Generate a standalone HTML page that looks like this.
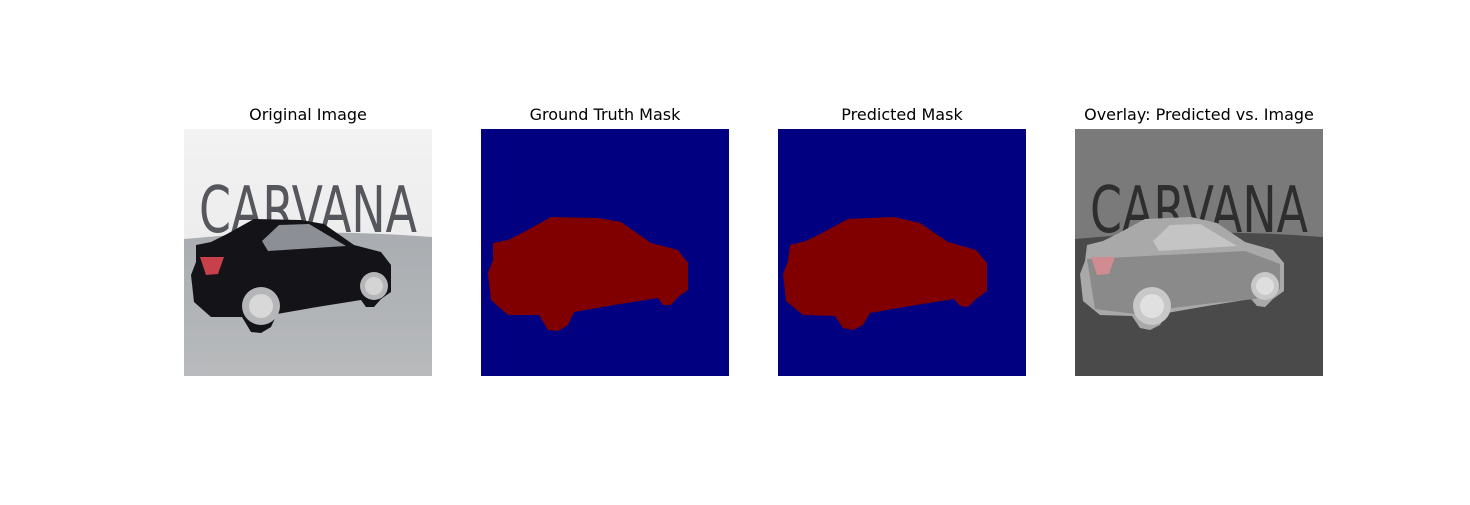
<!DOCTYPE html>
<html><head><meta charset="utf-8"><style>
html,body{margin:0;padding:0;background:#fff;}
svg text{font-family:"DejaVu Sans","Liberation Sans",sans-serif;}
</style></head><body>
<svg width="1470" height="500" viewBox="0 0 1470 500" xmlns="http://www.w3.org/2000/svg">
<defs>
<path id="sil" d="M12,114 L27,111 L43,103 L70,88 L117,89 L140,93 L170,114 L197,121 L207,134 L207,161 L197,168 L190,176 L182,176 L177,169 L133,176 L93,183 L87,196 L77,202 L67,201 L58,186 L27,186 L10,171 L7,144 L12,131 Z"/>
<path id="sil2" d="M12,116 L28,112 L44,104 L70,90 L116,88 L142,94 L170,113 L198,121 L209,134 L209,162 L198,170 L190,178 L182,177 L176,170 L132,177 L92,184 L85,196 L75,201 L65,199 L57,187 L25,186 L8,172 L5,145 L10,132 Z"/>
<linearGradient id="wall" x1="0" y1="0" x2="0" y2="1"><stop offset="0" stop-color="#f2f2f2"/><stop offset="1" stop-color="#e6e6e6"/></linearGradient>
<linearGradient id="floor" x1="0" y1="0" x2="0" y2="1"><stop offset="0" stop-color="#a9adb1"/><stop offset="1" stop-color="#b8babc"/></linearGradient>
</defs>

<!-- Panel 1: original -->
<g>
<text x="308" y="120" font-size="16" text-anchor="middle">Original Image</text>
<svg x="184" y="129" width="248" height="247" viewBox="0 0 248 247">
<rect width="248" height="247" fill="url(#wall)"/>
<path d="M0,110 Q124,98 248,108 L248,247 L0,247 Z" fill="url(#floor)"/>
<text x="124" y="103" font-size="64" text-anchor="middle" fill="#55575c" font-family="Liberation Sans" textLength="218" lengthAdjust="spacingAndGlyphs">CARVANA</text>
<use href="#sil" fill="#141418" transform="translate(0,2)"/>
<path d="M78,112 L95,96 L125,95 L162,117 L84,122 Z" fill="#8c9096"/>
<path d="M16,128 L40,128 L34,145 L22,146 Z" fill="#c8404a"/>
<circle cx="77" cy="177" r="19" fill="#b4b6b8"/><circle cx="77" cy="177" r="12" fill="#d8d8d8"/>
<circle cx="190" cy="157" r="14" fill="#b4b6b8"/><circle cx="190" cy="157" r="9" fill="#d4d4d4"/>
</svg>
</g>

<!-- Panel 2: ground truth -->
<g>
<text x="605" y="120" font-size="16" text-anchor="middle">Ground Truth Mask</text>
<svg x="481" y="129" width="248" height="247" viewBox="0 0 248 247">
<rect width="248" height="247" fill="#000080"/>
<use href="#sil" fill="#800000"/>
</svg>
</g>

<!-- Panel 3: predicted -->
<g>
<text x="902" y="120" font-size="16" text-anchor="middle">Predicted Mask</text>
<svg x="778" y="129" width="248" height="247" viewBox="0 0 248 247">
<rect width="248" height="247" fill="#000080"/>
<use href="#sil2" fill="#800000"/>
</svg>
</g>

<!-- Panel 4: overlay -->
<g>
<text x="1199" y="120" font-size="16" text-anchor="middle">Overlay: Predicted vs. Image</text>
<svg x="1075" y="129" width="248" height="247" viewBox="0 0 248 247">
<rect width="248" height="247" fill="#7a7a7a"/>
<path d="M0,110 Q124,98 248,108 L248,247 L0,247 Z" fill="#4a4a4a"/>
<text x="124" y="103" font-size="64" text-anchor="middle" fill="#2e2e2e" font-family="Liberation Sans" textLength="218" lengthAdjust="spacingAndGlyphs">CARVANA</text>
<use href="#sil2" fill="#a9a9a9"/>
<path d="M12,130 L170,122 L205,135 L205,160 L180,170 L130,175 L90,180 L60,185 L20,180 Z" fill="#8a8a8a"/>
<path d="M78,112 L95,96 L125,95 L162,117 L84,122 Z" fill="#c4c4c4"/>
<path d="M16,128 L40,128 L34,145 L22,146 Z" fill="#d08c90"/>
<circle cx="77" cy="177" r="19" fill="#c8c8c8"/><circle cx="77" cy="177" r="12" fill="#e0e0e0"/>
<circle cx="190" cy="157" r="14" fill="#c8c8c8"/><circle cx="190" cy="157" r="9" fill="#dedede"/>
</svg>
</g>
</svg>
</body></html>
